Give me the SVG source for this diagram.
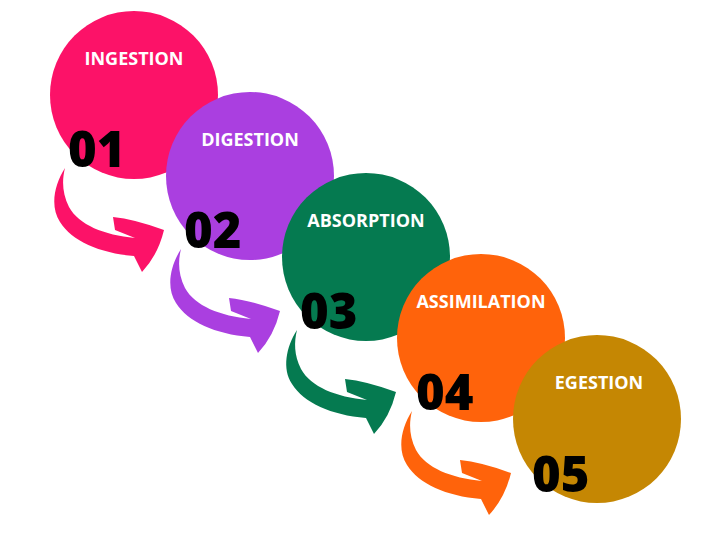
<svg xmlns="http://www.w3.org/2000/svg" width="720" height="540" viewBox="0 0 720 540">
  <style>
    .lbl { font-family: "Open Sans", "Liberation Sans", sans-serif; font-weight: 700; font-size: 18px; fill: #ffffff; text-anchor: middle; }
    .num { font-family: "Open Sans", "Liberation Sans", sans-serif; font-weight: 800; font-size: 49px; fill: #000000; }
  </style>
  <defs>
    <path id="arrow" d="M -69,73 C -80,90 -84,112 -74,127 C -62,146 -35,158 0,161 L 8,177 Q 24,160 30,135 Q 0,124 -21,122 L -19,135 L 1,143 C -30,140 -55,130 -65,112 C -72,98 -72,85 -69,73 Z"/>
  </defs>
  <rect width="720" height="540" fill="#ffffff"/>
  <g id="connectors">
    <use href="#arrow" transform="translate(134,95)" fill="#FC1268"/>
    <use href="#arrow" transform="translate(250,176)" fill="#AA3FE0"/>
    <use href="#arrow" transform="translate(366,257)" fill="#057A50"/>
    <use href="#arrow" transform="translate(481,338)" fill="#FF630B"/>
  </g>
  <g id="node1">
    <circle cx="134" cy="95" r="84" fill="#FC1268"/>
    <text class="lbl" x="134" y="65">INGESTION</text>
  </g>
  <g id="node2">
    <circle cx="250" cy="176" r="84" fill="#AA3FE0"/>
    <text class="lbl" x="250" y="146">DIGESTION</text>
  </g>
  <g id="node3">
    <circle cx="366" cy="257" r="84" fill="#057A50"/>
    <text class="lbl" x="366" y="227">ABSORPTION</text>
  </g>
  <g id="node4">
    <circle cx="481" cy="338" r="84" fill="#FF630B"/>
    <text class="lbl" x="481" y="308">ASSIMILATION</text>
  </g>
  <g id="node5">
    <circle cx="597" cy="419" r="84" fill="#C58703"/>
    <text class="lbl" x="599" y="389">EGESTION</text>
  </g>
  <g id="numbers">
    <text class="num" x="68" y="167">01</text>
    <text class="num" x="184" y="248">02</text>
    <text class="num" x="300" y="329">03</text>
    <text class="num" x="416" y="410">04</text>
    <text class="num" x="532" y="492">05</text>
  </g>
</svg>
